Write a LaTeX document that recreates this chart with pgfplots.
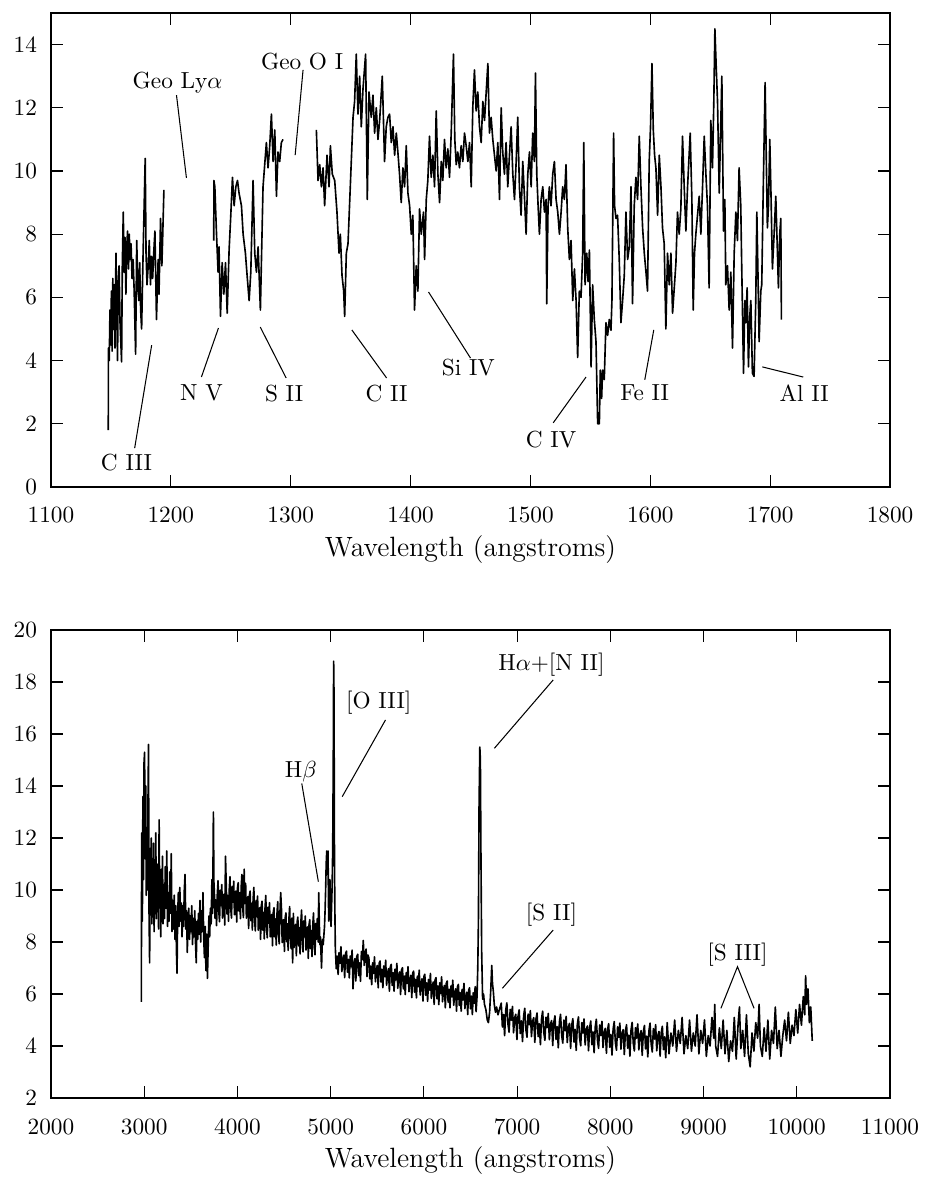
\documentclass[border=0pt]{standalone}
\usepackage{pgfplots}
\pgfplotsset{compat=1.18}
\tikzset{ann/.style={black, line width=0.45pt}}
\begin{document}
\begin{tikzpicture}
\pgfplotsset{
  specax/.style={
    scale only axis,
    anchor=south west,
    width=360.77pt,
    axis line style={line width=0.6pt},
    every tick/.style={line width=0.5pt, black},
    major tick length=5pt,
    minor tick num=0,
    tick align=inside,
    scaled ticks=false,
    /pgf/number format/1000 sep={},
    xticklabel style={yshift=-5.5pt},
    yticklabel style={xshift=-2.5pt},
    xlabel={\large Wavelength (angstroms)},
    xlabel style={at={(axis description cs:0.5,0)}, anchor=center, yshift=-26.7pt},
    clip=false,
  },
  spec/.style={black, line width=0.7pt, line join=round, no marks},
}
%%%%%%%%%%%%%%%% TOP PANEL %%%%%%%%%%%%%%%%
\begin{axis}[specax, at={(21.93pt,-209.41pt)}, height=203.82pt,
  xmin=1100, xmax=1800, ymin=0, ymax=15,
  xtick={1100,1200,...,1800}, ytick={0,2,...,14}]
\addplot[spec] coordinates {
(1147.8,1.8)(1147.9,4.4)(1148.6,4.0)(1149.2,5.6)(1149.8,4.5)(1150.4,6.2)(1151.0,4.3)(1151.6,6.6)(1152.2,5.0)(1152.8,6.4)(1153.4,4.4)(1154.2,7.4)(1154.8,5.8)(1155.5,4.0)(1156.1,6.5)(1156.8,7.0)(1157.6,5.2)(1158.9,3.96)(1159.5,7.0)(1160.3,8.7)(1161.0,6.8)(1161.7,7.9)(1162.5,6.1)(1163.2,7.6)(1163.9,8.1)(1164.7,6.9)(1165.3,8.0)(1166.0,7.2)(1166.8,7.7)(1167.6,6.6)(1168.5,7.2)(1169.4,6.2)(1170.6,4.2)(1171.5,7.8)(1172.3,6.6)(1173.2,5.9)(1174.0,7.1)(1174.8,5.6)(1175.6,5.0)(1176.9,7.5)(1178.6,10.4)(1179.3,7.4)(1180.1,6.4)(1181.1,7.0)(1182.0,7.8)(1183.0,6.4)(1183.9,7.3)(1184.8,6.6)(1185.7,7.4)(1186.7,8.1)(1188.0,5.3)(1189.4,7.2)(1190.1,6.1)(1191.4,8.5)(1192.5,7.0)(1193.1,7.8)(1194.2,9.4)
};
\addplot[spec] coordinates {
(1235.8,7.8)(1235.9,9.7)(1236.7,9.5)(1238.1,8.0)(1239.4,6.8)(1240.2,7.6)(1241.4,5.4)(1242.8,7.1)(1244.2,6.1)(1245.6,7.1)(1247.0,5.5)(1248.6,7.5)(1250.0,8.6)(1251.4,9.8)(1252.8,8.9)(1254.2,9.5)(1255.6,9.7)(1256.9,9.3)(1258.9,8.9)(1260.3,8.0)(1262.2,7.4)(1263.6,6.7)(1265.3,5.9)(1266.7,6.8)(1268.6,9.7)(1270.0,7.4)(1271.4,6.8)(1272.8,7.6)(1274.7,5.6)(1275.6,7.2)(1276.9,9.5)(1278.3,10.2)(1279.7,10.9)(1281.1,10.1)(1282.5,10.8)(1283.9,11.8)(1285.3,10.3)(1286.7,11.3)(1288.1,9.2)(1289.4,10.6)(1290.8,10.3)(1292.2,10.9)(1293.6,11.0)
};
\addplot[spec] coordinates {
(1321.4,11.3)(1322.8,9.7)(1324.2,10.2)(1325.6,9.5)(1327.0,10.1)(1328.3,8.9)(1330.3,10.5)(1332.0,9.5)(1333.1,10.8)(1334.7,9.9)(1336.7,9.7)(1338.6,8.7)(1340.3,7.4)(1341.4,8.0)(1342.8,6.7)(1344.2,6.2)(1345.0,5.4)(1346.4,7.4)(1347.8,7.7)(1349.7,9.5)(1352.0,11.7)(1353.3,12.2)(1354.7,13.7)(1356.1,11.8)(1357.5,13.0)(1358.9,11.4)(1360.3,12.6)(1362.5,13.7)(1363.9,9.1)(1365.3,12.5)(1367.2,11.7)(1368.6,12.4)(1370.0,11.2)(1371.4,12.0)(1372.8,11.0)(1374.2,11.6)(1376.4,13.0)(1378.3,10.3)(1379.7,11.4)(1381.1,11.7)
(1382.5,11.8)(1383.9,10.9)(1385.3,11.4)(1386.7,10.5)(1388.1,11.2)(1389.4,10.6)(1390.8,9.9)(1392.2,9.0)(1393.6,10.1)(1395.0,9.5)(1396.4,10.8)(1397.8,9.3)(1399.2,8.9)(1400.6,8.0)(1401.9,8.6)(1403.3,5.6)(1404.7,7.0)(1406.1,6.2)(1407.5,8.8)(1408.9,8.0)(1410.8,8.7)(1411.7,7.2)(1413.1,9.1)(1414.4,9.7)(1415.8,11.1)(1417.2,9.8)(1418.6,10.5)(1420.0,9.5)(1421.4,11.9)(1422.8,9.9)(1424.2,9.0)(1425.6,10.3)(1426.9,9.7)(1428.3,11.0)(1429.7,10.1)(1431.1,10.7)(1432.5,9.8)(1433.9,11.2)(1435.8,13.7)(1436.9,11.0)(1438.1,10.2)(1439.4,10.6)(1440.8,10.1)(1442.2,10.8)(1443.6,10.3)(1445.0,11.2)(1446.4,10.8)(1447.8,10.3)(1449.2,10.9)(1450.6,9.5)(1451.9,12.0)(1453.3,13.2)(1454.7,11.9)(1456.1,12.5)(1457.5,11.4)(1458.9,10.9)(1460.3,12.2)(1461.7,11.6)(1463.1,12.5)(1464.5,13.4)(1465.8,11.2)(1467.2,11.7)(1468.6,11.0)(1470.0,10.5)(1471.4,10.0)(1472.8,10.9)(1474.2,9.1)(1475.6,12.0)(1476.9,10.6)(1478.3,9.9)(1479.7,10.9)(1481.1,9.5)(1482.5,10.5)(1483.9,11.4)(1485.3,9.9)(1486.7,9.1)(1488.1,10.3)(1489.4,11.7)(1490.8,9.5)(1492.2,8.6)(1493.6,10.3)(1495.0,9.2)(1496.4,8.0)(1497.8,9.9)(1499.2,10.6)(1500.6,9.5)(1501.9,11.2)(1503.3,10.3)(1504.2,13.1)(1505.3,9.9)(1506.4,8.9)(1507.5,8.0)(1508.9,9.1)(1510.3,9.5)(1511.7,8.7)(1513.1,9.1)(1513.6,5.8)(1514.7,8.9)(1515.8,9.5)(1517.2,8.9)(1518.6,9.9)(1520.0,10.3)(1521.4,9.1)(1522.8,8.7)(1524.2,8.0)(1525.6,8.7)(1526.9,9.5)(1528.3,9.1)(1529.7,10.2)(1531.1,8.2)(1532.5,7.2)(1533.9,7.8)(1535.3,5.9)(1536.7,6.9)(1538.1,5.9)(1539.4,4.1)(1540.8,6.2)(1542.2,6.0)(1543.6,7.4)(1544.5,10.9)(1545.6,6.4)(1547.0,7.4)(1548.1,6.5)(1549.2,7.5)(1550.6,3.8)(1551.9,6.4)(1553.3,5.3)(1554.7,4.6)(1556.1,2.0)
(1557.5,2.0)(1558.3,3.7)(1559.4,2.8)(1560.2,3.7)(1561.6,3.4)(1563.0,5.2)(1564.4,4.8)(1565.8,5.3)(1567.2,4.96)(1568.0,5.9)(1569.4,11.2)(1570.2,8.9)(1571.4,8.5)(1572.7,8.6)(1574.1,7.2)(1575.5,5.2)(1576.9,5.9)(1578.3,6.7)(1579.7,8.7)(1581.1,7.2)(1582.5,7.6)(1583.9,9.5)(1585.2,5.8)(1586.6,8.9)(1588.0,9.8)(1589.4,9.1)(1590.8,11.1)(1592.2,9.5)(1593.6,8.2)(1595.0,7.4)(1596.4,6.8)(1597.7,6.2)(1599.1,10.3)(1600.2,11.4)(1601.4,13.4)(1602.5,11.3)(1603.6,10.5)(1604.7,10.1)(1606.1,8.6)(1607.5,10.5)(1608.9,9.5)(1610.2,8.2)(1611.6,7.7)(1613.0,5.0)(1614.4,7.4)(1615.8,6.4)(1617.2,7.4)(1618.6,5.5)(1620.0,6.3)(1621.4,7.1)(1622.7,8.7)(1624.1,8.0)(1625.5,8.8)(1626.9,11.1)(1628.3,9.5)(1629.7,8.1)(1631.1,9.5)(1633.3,11.2)(1634.7,9.1)(1635.8,5.6)(1636.9,7.4)(1638.0,8.0)(1639.4,8.6)(1640.8,9.2)(1642.2,8.0)(1643.6,9.5)(1645.0,11.1)(1646.4,9.9)(1647.7,8.9)(1649.1,6.3)(1650.5,11.6)(1651.9,10.1)(1653.0,12.2)(1653.9,14.5)(1655.0,13.3)(1656.1,12.2)(1657.5,9.3)(1659.7,13.0)(1661.1,8.1)(1662.2,9.1)(1663.0,6.4)(1664.4,7.0)(1665.8,5.6)(1667.2,6.8)(1668.6,4.4)(1670.0,7.4)(1671.4,8.7)(1672.7,7.8)(1674.1,10.1)(1675.5,8.9)(1676.1,7.4)(1677.8,3.6)(1678.9,5.9)(1679.7,5.2)(1680.8,6.3)(1681.9,3.8)(1683.0,5.4)(1683.9,5.9)(1685.2,3.6)(1686.6,3.5)(1688.0,5.9)(1688.9,8.7)(1690.0,6.4)(1690.8,4.6)(1692.2,6.2)(1693.0,6.4)(1694.1,9.1)(1695.8,12.8)(1696.9,10.1)(1697.7,8.2)(1698.6,8.9)(1699.7,11.0)(1700.8,9.1)(1701.9,6.9)(1703.3,8.0)(1704.7,9.2)(1706.1,7.4)(1706.9,6.3)(1708.0,8.0)(1708.9,8.5)(1709.4,5.3)
};
% annotations
\node at (axis cs:1205.6,12.8) {Geo Ly$\alpha$};
\draw[ann] (axis cs:1204.7,12.4) -- (axis cs:1213,9.78);
\node at (axis cs:1309.5,13.45) {Geo O I};
\draw[ann] (axis cs:1310.3,13.2) -- (axis cs:1303.7,10.5);
\node at (axis cs:1163,0.76) {C III};
\draw[ann] (axis cs:1169.8,1.23) -- (axis cs:1184,4.49);
\node at (axis cs:1225.5,2.97) {N V};
\draw[ann] (axis cs:1225.5,3.48) -- (axis cs:1239.7,5.03);
\node at (axis cs:1294.5,2.97) {S II};
\draw[ann] (axis cs:1296.2,3.45) -- (axis cs:1274.6,5.06);
\node at (axis cs:1380,2.97) {C II};
\draw[ann] (axis cs:1380,3.45) -- (axis cs:1351,4.97);
\node at (axis cs:1448.3,3.77) {Si IV};
\draw[ann] (axis cs:1450,4.08) -- (axis cs:1415,6.17);
\node at (axis cs:1517.3,1.49) {C IV};
\draw[ann] (axis cs:1519,2.03) -- (axis cs:1546.4,3.48);
\node at (axis cs:1595.4,2.97) {Fe II};
\draw[ann] (axis cs:1595.4,3.39) -- (axis cs:1602.9,4.97);
\node at (axis cs:1728.4,2.97) {Al II};
\draw[ann] (axis cs:1727.6,3.48) -- (axis cs:1693.5,3.8);
\end{axis}
%%%%%%%%%%%%%%%% BOTTOM PANEL %%%%%%%%%%%%%%%%
\begin{axis}[specax, at={(21.93pt,-472.14pt)}, height=201.24pt,
  xmin=2000, xmax=11000, ymin=2, ymax=20,
  xtick={2000,3000,...,11000}, ytick={2,4,...,20}]
\addplot[spec] coordinates {
(2969,5.7)(2971,9.5)(2974,12.2)(2980,8.8)(2986,13.6)(2992,10.4)(2998,14.9)(3004,15.3)(3010,11.2)(3016,14.0)(3022,9.8)(3028,12.4)(3034,10.0)(3040,13.2)(3046,15.6)(3052,9.0)(3058,7.2)(3064,11.6)(3070,9.3)(3076,12.0)(3082,8.7)(3088,10.6)(3094,9.1)(3100,11.8)(3106,8.4)(3112,10.9)(3118,9.6)(3124,12.2)(3130,8.9)(3136,10.3)(3142,9.2)(3148,11.0)(3154,8.5)(3160,12.7)(3166,9.4)(3172,10.6)(3178,8.2)(3184,10.8)(3190,9.0)(3196,11.3)(3202,8.7)(3210,10.2)(3218,8.9)(3226,10.9)(3234,9.3)(3242,11.5)(3250,8.6)(3258,9.9)(3266,8.8)(3274,10.7)(3282,9.1)(3290,11.4)(3298,8.4)(3306,9.6)(3314,8.5)(3322,9.8)(3330,8.1)(3338,9.4)(3346,7.6)(3352,6.8)(3358,8.9)(3366,9.9)(3374,8.6)(3382,10.1)(3390,8.8)(3398,9.5)(3406,8.2)(3414,9.4)(3422,8.6)(3430,10.0)(3438,10.6)(3446,8.5)(3454,9.2)(3462,7.6)(3470,8.8)(3478,9.3)(3486,8.1)(3494,9.0)(3502,8.4)(3510,9.4)(3518,7.9)(3526,8.9)(3534,8.2)(3542,9.2)(3550,8.0)(3558,7.2)(3566,8.8)(3574,8.1)(3582,9.1)(3590,8.3)(3598,9.6)(3606,8.0)(3614,9.2)(3622,8.4)(3630,9.9)(3638,8.2)(3646,7.4)(3654,8.6)(3662,6.9)(3670,8.3)(3678,6.6)(3686,7.8)(3694,9.0)(3702,8.2)(3710,9.3)(3718,8.7)(3726,10.4)(3734,9.1)(3742,13.0)(3748,10.2)
(3752,10.0)(3760,8.91)(3768,9.62)(3776,8.63)(3784,9.84)(3792,10.36)(3800,9.17)(3808,8.78)(3816,9.99)(3824,9.40)(3832,10.21)(3840,8.92)(3848,9.53)(3856,9.84)(3864,8.65)(3872,11.3)(3880,10.17)(3888,9.08)(3896,9.79)(3904,8.80)(3912,10.01)(3920,10.51)(3928,9.32)(3936,8.92)(3944,10.13)(3952,9.54)(3960,10.34)(3968,9.05)(3976,9.66)(3984,9.96)(3992,8.77)(4000,10.07)(4008,10.28)(4016,9.19)(4024,9.89)(4032,8.90)(4040,10.10)(4048,10.60)(4056,9.38)(4064,8.94)(4072,10.8)(4080,9.48)(4088,10.25)(4096,8.92)(4104,9.48)(4112,9.75)(4120,8.52)(4128,9.79)(4136,9.96)(4144,8.82)(4152,9.49)(4160,8.46)(4168,9.63)(4176,10.10)(4184,8.86)(4192,8.43)(4200,9.60)(4208,8.98)(4216,9.77)(4224,8.45)(4232,9.04)(4240,9.32)(4248,8.10)(4256,9.39)(4264,9.57)(4272,8.46)(4280,9.14)(4288,8.12)(4296,9.31)(4304,9.79)(4312,8.58)(4320,8.16)(4328,9.34)(4336,8.73)(4344,9.51)(4352,8.20)(4360,8.78)(4368,9.06)(4376,7.85)(4384,9.13)(4392,9.32)(4400,8.20)(4408,8.89)(4416,7.88)(4424,9.07)(4432,9.55)(4440,8.34)(4448,7.93)(4456,9.12)(4464,9.9)(4472,9.29)(4480,7.98)(4488,8.57)(4496,8.86)(4504,7.64)(4512,8.93)(4520,9.12)(4528,8.01)(4536,8.70)(4544,7.68)(4552,8.87)(4560,9.36)(4568,8.15)(4576,7.74)(4584,8.92)(4592,7.2)(4600,9.10)(4608,7.79)(4616,8.39)(4624,8.68)(4632,7.47)(4640,8.77)(4648,8.96)(4656,7.85)(4664,8.55)(4672,7.54)(4680,8.74)(4688,9.23)(4696,8.02)(4704,7.62)(4712,8.81)(4720,8.20)(4728,9.00)(4736,7.69)(4744,8.28)(4752,8.58)(4760,7.37)(4768,8.66)(4776,8.86)(4784,7.75)(4792,8.44)(4800,7.44)(4808,8.63)(4816,9.12)(4824,7.92)(4832,7.51)(4840,8.71)(4848,8.10)(4856,8.90)
(4866,8.0)(4872,9.9)(4878,8.8)(4884,7.9)(4890,8.2)(4896,7.6)(4902,7.0)(4908,7.8)(4914,8.1)(4920,7.9)(4928,8.3)(4934,8.6)(4940,9.2)(4946,10.0)(4952,11.0)(4958,11.5)(4964,11.4)(4968,10.6)(4972,11.5)(4976,9.6)(4980,8.8)(4986,9.5)(4992,10.4)(4998,9.2)(5004,8.6)(5010,9.4)(5016,10.2)(5022,11.6)(5028,15.0)(5032,18.8)(5036,17.5)(5040,12.0)(5044,9.6)(5048,8.4)
(5050,7.78)(5060,6.97)(5070,7.46)(5080,6.75)(5090,7.59)(5100,7.18)(5110,7.82)(5120,6.86)(5130,7.30)(5140,7.49)(5150,6.63)(5160,7.56)(5170,7.65)(5180,6.84)(5190,7.33)(5200,6.62)(5210,7.46)(5220,7.05)(5230,7.69)(5240,6.2)(5250,7.17)(5260,7.36)(5270,6.50)(5280,7.44)(5290,7.53)(5300,6.71)(5310,7.20)(5320,6.49)(5330,7.63)(5340,7.32)(5350,8.06)(5360,7.10)(5370,7.54)(5380,7.73)(5390,6.67)(5400,7.50)(5410,7.39)(5420,6.58)(5430,7.07)(5440,6.36)(5450,7.20)(5460,6.79)(5470,7.43)(5480,6.47)(5490,6.91)(5500,7.10)(5510,6.24)(5520,7.18)(5530,7.27)(5540,6.46)(5550,6.95)(5560,6.24)(5570,7.08)(5580,6.67)(5590,7.30)(5600,6.34)(5610,6.78)(5620,6.97)(5630,6.11)(5640,7.05)(5650,7.14)(5660,6.33)(5670,6.82)(5680,6.11)(5690,6.95)(5700,6.54)(5710,7.18)(5720,6.22)(5730,6.66)(5740,6.85)(5750,5.98)(5760,6.92)(5770,7.01)(5780,6.20)(5790,6.69)(5800,5.98)(5810,6.82)(5820,6.41)(5830,7.05)(5840,6.09)(5850,6.53)(5860,6.72)(5870,5.86)(5880,6.80)(5890,6.88)(5900,6.07)(5910,6.56)(5920,5.85)(5930,6.69)(5940,6.28)(5950,6.92)(5960,5.96)(5970,6.40)(5980,6.59)(5990,5.73)(6000,6.67)(6010,6.76)(6020,5.95)(6030,6.43)(6040,5.72)(6050,6.56)(6060,6.15)(6070,6.79)(6080,5.83)(6090,6.27)(6100,6.46)(6110,5.60)(6120,6.54)(6130,6.63)(6140,5.82)(6150,6.31)(6160,5.59)(6170,6.43)(6180,6.02)(6190,6.66)(6200,5.70)(6210,6.14)(6220,6.33)(6230,5.47)(6240,6.41)(6250,6.50)(6260,5.69)(6270,6.18)(6280,5.47)(6290,6.31)(6300,5.89)(6310,6.53)(6320,5.57)(6330,6.01)(6340,6.20)(6350,5.34)(6360,6.28)(6370,6.37)(6380,5.56)(6390,6.05)(6400,5.34)(6410,6.18)(6420,5.77)(6430,6.41)(6440,5.44)(6450,5.88)(6460,6.07)(6470,5.21)(6480,6.15)(6490,6.24)(6500,5.43)(6510,5.92)(6520,5.21)(6530,6.05)(6540,5.64)(6550,6.28)(6560,5.32)(6570,5.9)
(6578,7.0)(6585,8.8)(6592,13.3)(6600,15.5)(6606,15.0)(6612,11.4)(6620,7.6)(6630,5.8)(6640,6.0)(6650,5.6)(6665,5.4)(6680,5.0)(6692,4.9)(6705,5.3)(6718,6.2)(6728,7.1)(6736,6.4)(6745,6.1)(6755,5.6)(6768,5.3)(6780,5.5)(6795,5.2)(6810,5.4)
(6830,5.65)(6842,4.73)(6854,5.21)(6866,4.40)(6878,5.38)(6890,5.66)(6902,4.84)(6914,4.53)(6926,5.41)(6938,4.99)(6950,5.52)(6962,4.51)(6974,5.09)(6986,5.22)(6998,4.25)(7010,5.14)(7022,5.39)(7034,4.48)(7046,4.97)(7058,4.17)(7070,5.16)(7082,5.45)(7094,4.64)(7106,4.34)(7118,5.23)(7130,4.82)(7142,5.36)(7154,4.36)(7166,4.95)(7178,5.09)(7190,4.14)(7202,5.03)(7214,5.27)(7226,4.36)(7238,4.86)(7250,4.05)(7262,5.04)(7274,5.34)(7286,4.53)(7298,4.22)(7310,5.11)(7322,4.71)(7334,5.25)(7346,4.24)(7358,4.84)(7370,4.98)(7382,4.02)(7394,4.91)(7406,5.16)(7418,4.25)(7430,4.74)(7442,3.93)(7454,4.93)(7466,5.22)(7478,4.41)(7490,4.11)(7502,5.00)(7514,4.59)(7526,5.14)(7538,4.13)(7550,4.73)(7562,4.87)(7574,3.91)(7586,4.81)(7598,5.05)(7610,4.15)(7622,4.64)(7634,3.83)(7646,4.83)(7658,5.12)(7670,4.32)(7682,4.01)(7694,4.90)(7706,4.50)(7718,5.04)(7730,4.04)(7742,4.63)(7754,4.77)(7766,3.82)(7778,4.71)(7790,4.96)(7802,4.05)(7814,4.54)(7826,3.74)(7838,4.73)(7850,5.03)(7862,4.22)(7874,3.91)(7886,4.81)(7898,4.40)(7910,4.95)(7922,3.94)(7934,4.53)(7946,4.68)(7958,3.72)(7970,4.62)(7982,4.86)(7994,3.95)(8006,4.45)(8018,3.65)(8030,4.65)(8042,4.94)(8054,4.14)(8066,3.84)(8078,4.74)(8090,4.33)(8102,4.88)(8114,3.88)(8126,4.48)(8138,4.63)(8150,3.67)(8162,4.57)(8174,4.82)(8186,3.92)(8198,4.42)(8210,3.61)(8222,4.61)(8234,4.91)(8246,4.11)(8258,3.81)(8270,4.70)(8282,4.30)(8294,4.85)(8306,3.85)(8318,4.45)(8330,4.59)(8342,3.64)(8354,4.54)(8366,4.79)(8378,3.89)(8390,4.38)(8402,3.58)(8414,4.58)(8426,4.88)(8438,4.08)(8450,3.77)(8462,4.67)(8474,4.27)(8486,4.82)(8498,3.82)(8510,4.41)(8522,4.56)(8534,3.61)(8546,4.51)(8558,4.76)(8570,3.86)(8582,4.35)(8594,3.55)
(8610,4.9)(8630,3.7)(8650,4.5)(8670,4.0)(8690,5.0)(8710,3.8)(8730,4.6)(8750,4.1)(8770,5.1)(8790,3.7)(8810,4.4)(8830,3.9)(8850,5.0)(8870,3.8)(8890,4.5)(8910,4.0)(8930,5.2)(8950,3.7)(8970,4.6)(8990,4.1)(9010,5.0)(9030,3.6)(9050,4.4)(9070,4.0)(9090,5.1)(9110,4.3)(9120,5.6)(9130,4.0)(9150,3.6)(9170,4.7)(9190,3.9)(9210,5.0)(9230,3.7)(9250,4.6)(9270,3.4)(9290,4.2)(9310,3.8)(9330,5.1)(9350,3.5)(9370,4.8)(9385,5.5)(9400,3.9)(9420,4.6)(9440,3.6)(9460,5.2)(9480,3.7)(9500,3.2)(9520,4.5)(9540,3.8)(9560,4.9)(9580,4.3)(9596,5.6)(9610,4.0)(9630,3.6)(9650,4.7)(9670,3.8)(9690,5.0)(9710,3.5)(9730,4.6)(9750,4.1)(9770,5.5)(9790,3.9)(9810,4.6)(9830,3.6)(9850,4.4)(9870,5.0)(9890,4.2)(9910,5.3)(9930,4.1)(9950,4.8)(9970,4.4)(9990,5.4)(10010,4.5)(10030,5.6)(10050,4.8)(10070,5.9)(10085,5.2)(10095,6.7)(10105,5.6)(10120,6.2)(10135,4.9)(10150,5.5)(10166,4.2)
};
\node at (axis cs:4680,14.55) {H$\beta$};
\draw[ann] (axis cs:4690,14.1) -- (axis cs:4868,10.32);
\node at (axis cs:5516,17.2) {[O III]};
\draw[ann] (axis cs:5588,16.54) -- (axis cs:5124,13.59);
\node at (axis cs:7369,18.65) {H$\alpha$+[N II]};
\draw[ann] (axis cs:7387,18.08) -- (axis cs:6756,15.45);
\node at (axis cs:7369,9.04) {[S II]};
\draw[ann] (axis cs:7387,8.46) -- (axis cs:6842,6.22);
\node at (axis cs:9364,7.5) {[S III]};
\draw[ann] (axis cs:9186,5.45) -- (axis cs:9364,7.05) -- (axis cs:9542,5.45);
\end{axis}
\pgfresetboundingbox
\path (0pt,0pt) rectangle (397.75pt,-507.83pt);
\end{tikzpicture}
\end{document}
